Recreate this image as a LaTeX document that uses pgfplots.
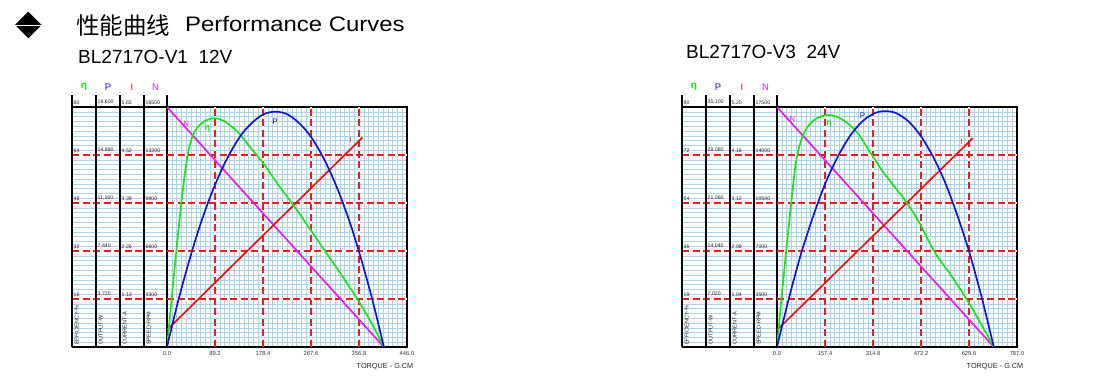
\documentclass[border=0pt]{standalone}
\usepackage{fontspec}
\setmainfont{Liberation Sans}
\newfontfamily\cjk{Noto Sans CJK SC}
\usepackage{graphicx}
\usepackage{pgfplots}
\pgfplotsset{compat=1.18}
\usepackage{pgfplotstable}

\definecolor{gridred}{RGB}{228,30,36}
\definecolor{gridblue}{RGB}{172,210,228}
\definecolor{cgreen}{RGB}{30,225,30}
\definecolor{cblue}{RGB}{20,20,205}
\definecolor{cred}{RGB}{228,20,20}
\definecolor{cmag}{RGB}{228,30,228}

% ---------- data, chart 1 (BL2717O-V1 12V) ----------
\pgfplotstableread{
T Eff
0 0
7 13
14 26
21 38.5
27 48.5
33 57.5
40 65.5
48 70.5
58 73.5
70 75.3
82 76.1
92 76.2
105 75.4
120 73.5
135 71
155 66.5
178 61.5
205 54.5
237 46.8
265 39.5
296 31.4
325 23.8
354 15.9
380 8
403 0
}\EffA
\pgfplotstableread{
T P
0 0
20 3450
40 6500
60 9250
80 11600
100 13600
120 15250
140 16550
160 17450
180 18050
201.5 18240
223 18050
243 17450
263 16550
283 15250
303 13600
323 11600
343 9250
363 6500
383 3450
403 0
}\PA
\pgfplotstableread{
T I
0 0.40
363 4.93
}\IA
\pgfplotstableread{
T N
0 16500
403 0
}\NA

% ---------- data, chart 2 (BL2717O-V3 24V) ----------
\pgfplotstableread{
T Eff
0 0
12 15
24 29
36 42.5
47 54.5
55 63
63 70
74 75.5
85 79.2
100 82.5
118 84.8
140 86.3
168 87
200 86.2
230 84
259 81
285 76.8
313 71.7
350 65.3
390 59.5
428 53.7
466 46.8
517 35.6
570 27
622 17.9
670 8.5
711 0
}\EffB
\pgfplotstableread{
T P
0 0
40 7300
80 13800
120 19300
160 24100
200 27900
240 30900
280 33000
320 34200
355.5 34500
391 34200
431 33000
471 30900
511 27900
551 24100
591 19300
631 13800
671 7300
711 0
}\PB
\pgfplotstableread{
T I
0 0.367
642 4.525
}\IB
\pgfplotstableread{
T N
0 17500
711 0
}\NB

\tikzset{majgrid/.style={preaction={draw=white, solid, line width=2.4bp}, draw=gridred, line width=2bp, dash pattern=on 7bp off 3.5bp}}

\pgfplotsset{perf/.style={
  scale only axis, width=240bp, height=240bp, anchor=south west,
  xmin=0, ymin=0,
  grid=minor, minor x tick num=9, minor y tick num=9,
  minor grid style={gridblue, line width=0.5bp},
  axis line style={black, line width=2bp},
  major tick length=0pt, minor tick length=0pt,
  yticklabels={,,,,,},
  xticklabel style={font=\fontsize{5.8bp}{7bp}\selectfont, text=black!80, inner sep=0.5bp, yshift=-4bp},
  every axis plot/.append style={line width=1.7bp},
}}

\newcommand{\colpanel}[1]{%
  \begin{scope}[x=1bp, y=1bp, xshift=#1]
    \foreach \k in {1,...,49} {\draw[gridblue, line width=0.5bp] (72,{33+\k*4.8}) -- (167,{33+\k*4.8});}
    \foreach \k in {1,2,3,4} {\draw[majgrid] (72,{33+\k*48}) -- (167,{33+\k*48});}
    \foreach \xx in {72,96,120,144,167} {\draw[black, line width=1.6bp] (\xx,33) -- (\xx,285);}
    \draw[black, line width=2bp] (72,33) -- (167,33);
    \draw[black, line width=2bp] (72,273) -- (167,273);
    \node[font=\fontsize{10bp}{11bp}\selectfont\bfseries, text=cgreen] at (84,293) {η};
    \node[font=\fontsize{9.5bp}{10bp}\selectfont, text=cblue] at (108,293) {P};
    \node[font=\fontsize{9.5bp}{10bp}\selectfont, text=cred] at (132,293) {I};
    \node[font=\fontsize{9.5bp}{10bp}\selectfont, text=cmag] at (155.5,293) {N};
    \foreach \xx/\lab in {72/EFFICIENCY-\%, 96/OUTPUT-W, 120/CURRENT-A, 144/SPEED-RPM}
      {\node[rotate=90, anchor=west, inner sep=0, font=\fontsize{5.6bp}{6bp}\selectfont, text=black!85] at (\xx+4.8,35) {\lab};}
  \end{scope}}

\newcommand{\colrow}[6]{% offset, k, a, b, c, d
  \begin{scope}[x=1bp, y=1bp, xshift=#1]
    \node[anchor=west, inner sep=0, font=\fontsize{5.2bp}{6bp}\selectfont, text=black!85] at (73.5,{33+#2*48+4.5}) {#3};
    \node[anchor=west, inner sep=0, font=\fontsize{5.2bp}{6bp}\selectfont, text=black!85] at (97.5,{33+#2*48+4.5}) {#4};
    \node[anchor=west, inner sep=0, font=\fontsize{5.2bp}{6bp}\selectfont, text=black!85] at (121.5,{33+#2*48+4.5}) {#5};
    \node[anchor=west, inner sep=0, font=\fontsize{5.2bp}{6bp}\selectfont, text=black!85] at (145.5,{33+#2*48+4.5}) {#6};
  \end{scope}}

\begin{document}
\begin{tikzpicture}
\useasboundingbox (0bp,0bp) rectangle (1100bp,380bp);

\begin{scope}[x=1bp, y=1bp]
% title
\fill[black] (15,355) -- (28.3,368.3) -- (41.6,355) -- (28.3,341.7) -- cycle;
\draw[white, line width=0.5bp] (15,355) -- (41.6,355);
\node[anchor=base west, inner sep=0] at (76,346) {\cjk\fontsize{23.5bp}{25bp}\selectfont 性能曲线};
\node[anchor=base west, inner sep=0] at (185,349) {\scalebox{1.14}[1]{\fontsize{21bp}{24bp}\selectfont Performance Curves}};
\node[anchor=base west, inner sep=0] at (78,316.7) {\fontsize{19bp}{22bp}\selectfont BL2717O-V1\ \ 12V};
\node[anchor=base west, inner sep=0] at (686,321.5) {\fontsize{19bp}{22bp}\selectfont BL2717O-V3\ \ 24V};
\node[font=\fontsize{7.3bp}{8bp}\selectfont, text=black!85] at (385,13.3) {TORQUE - G.CM};
\node[font=\fontsize{7.3bp}{8bp}\selectfont, text=black!85] at (995,13.3) {TORQUE - G.CM};
\end{scope}

% ---------- chart 1 ----------
\colpanel{0bp}
\colrow{0bp}{1}{16}{3,720}{1.13}{3300}
\colrow{0bp}{2}{32}{7,440}{2.26}{6600}
\colrow{0bp}{3}{48}{11,160}{3.39}{9900}
\colrow{0bp}{4}{64}{14,880}{4.52}{13200}
\colrow{0bp}{5}{80}{18,600}{5.65}{16500}
\begin{axis}[perf, at={(167bp,33bp)}, xmax=446, ymax=80,
  xtick={0,89.2,178.4,267.6,356.8,446}, ytick={0,16,32,48,64,80},
  xticklabels={0.0,89.2,178.4,267.6,356.8,446.0}]
  \draw[majgrid] (axis cs:89.2,0) -- (axis cs:89.2,80);
  \draw[majgrid] (axis cs:178.4,0) -- (axis cs:178.4,80);
  \draw[majgrid] (axis cs:267.6,0) -- (axis cs:267.6,80);
  \draw[majgrid] (axis cs:356.8,0) -- (axis cs:356.8,80);
  \draw[majgrid] (axis cs:0,16) -- (axis cs:446,16);
  \draw[majgrid] (axis cs:0,32) -- (axis cs:446,32);
  \draw[majgrid] (axis cs:0,48) -- (axis cs:446,48);
  \draw[majgrid] (axis cs:0,64) -- (axis cs:446,64);
  \addplot[cmag] table[x=T, y expr=\thisrow{N}*80/16500] {\NA};
  \addplot[cred] table[x=T, y expr=\thisrow{I}*80/5.65] {\IA};
  \addplot[cgreen, smooth] table[x=T, y=Eff] {\EffA};
  \addplot[cblue, smooth] table[x=T, y expr=\thisrow{P}*80/18600] {\PA};
  \node[text=cmag, font=\fontsize{7.5bp}{8bp}\selectfont] at (axis cs:35.9,74.3) {N};
  \node[text=cgreen, font=\fontsize{9bp}{9bp}\selectfont\bfseries] at (axis cs:75,72.6) {η};
  \node[text=cblue, font=\fontsize{8bp}{8bp}\selectfont] at (axis cs:201,75) {P};
  \node[text=cred, font=\fontsize{7.5bp}{8bp}\selectfont] at (axis cs:341.3,69) {I};
\end{axis}

% ---------- chart 2 ----------
\colpanel{610bp}
\colrow{610bp}{1}{18}{7,020}{1.04}{3500}
\colrow{610bp}{2}{36}{14,040}{2.08}{7000}
\colrow{610bp}{3}{54}{21,060}{3.12}{10500}
\colrow{610bp}{4}{72}{28,080}{4.16}{14000}
\colrow{610bp}{5}{90}{35,100}{5.20}{17500}
\begin{axis}[perf, at={(777bp,33bp)}, xmax=787, ymax=90,
  xtick={0,157.4,314.8,472.2,629.6,787}, ytick={0,18,36,54,72,90},
  xticklabels={0.0,157.4,314.8,472.2,629.6,787.0}]
  \draw[majgrid] (axis cs:157.4,0) -- (axis cs:157.4,90);
  \draw[majgrid] (axis cs:314.8,0) -- (axis cs:314.8,90);
  \draw[majgrid] (axis cs:472.2,0) -- (axis cs:472.2,90);
  \draw[majgrid] (axis cs:629.6,0) -- (axis cs:629.6,90);
  \draw[majgrid] (axis cs:0,18) -- (axis cs:787,18);
  \draw[majgrid] (axis cs:0,36) -- (axis cs:787,36);
  \draw[majgrid] (axis cs:0,54) -- (axis cs:787,54);
  \draw[majgrid] (axis cs:0,72) -- (axis cs:787,72);
  \addplot[cmag] table[x=T, y expr=\thisrow{N}*90/17500] {\NB};
  \addplot[cred] table[x=T, y expr=\thisrow{I}*90/5.2] {\IB};
  \addplot[cgreen, smooth] table[x=T, y=Eff] {\EffB};
  \addplot[cblue, smooth] table[x=T, y expr=\thisrow{P}*90/35100] {\PB};
  \node[text=cmag, font=\fontsize{7.5bp}{8bp}\selectfont] at (axis cs:50.3,85.4) {N};
  \node[text=cgreen, font=\fontsize{9bp}{9bp}\selectfont\bfseries] at (axis cs:171.2,83.7) {η};
  \node[text=cblue, font=\fontsize{8bp}{8bp}\selectfont] at (axis cs:280.4,86.8) {P};
  \node[text=cred, font=\fontsize{7.5bp}{8bp}\selectfont] at (axis cs:604.4,76.9) {I};
\end{axis}
\end{tikzpicture}
\end{document}
